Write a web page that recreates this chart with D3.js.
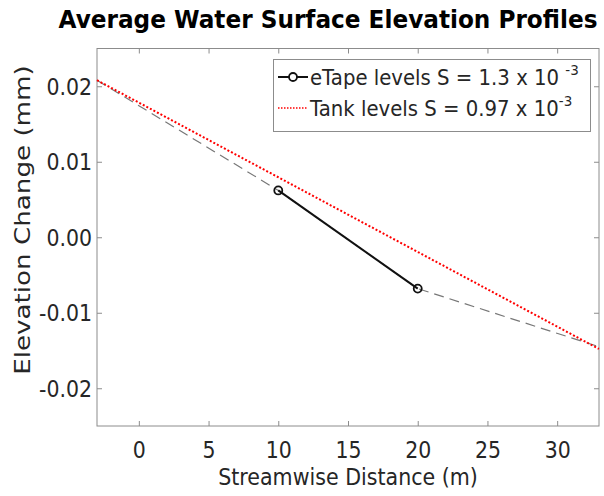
<!DOCTYPE html>
<html><head><meta charset="utf-8">
<script src="https://cdn.jsdelivr.net/npm/d3@7"></script>
<style>body{margin:0;background:#fff}svg{display:block}text{font-family:"DejaVu Sans",Verdana,sans-serif}</style>
</head><body>
<svg id="c" width="604" height="496"></svg>
<script>
const xTicks = [0, 5, 10, 15, 20, 25, 30];
const yTicks = [-0.02, -0.01, 0.00, 0.01, 0.02];
const xDomain = [-3, 33];
const yDomain = [-0.025, 0.025];
const etapeX = [10, 20];
const etapeY = [0.0062, -0.0068];
const trendX = [-3, 10, 20, 33];
const trendY = [0.0208, 0.0062, -0.0068, -0.0145];
const tankX = [-3, 33];
const tankY = [0.0208, -0.0148];
const legendLabels = ["eTape levels S = 1.3 x 10", "Tank levels S = 0.97 x 10"];
const legendSup = ["-3", "-3"];

const svg = d3.select("#c");
const L = 97, R = 599, T = 48.5, B = 426;
const x = d3.scaleLinear().domain(xDomain).range([L, R]);
const y = d3.scaleLinear().domain(yDomain).range([B, T]);
const axisCol = "#8c8c8c", txt = "#262626";
const VS = 1.1; // vertical stretch of the reference text

// axes
const gx = svg.append("g").attr("transform", `translate(0,${B})`)
  .call(d3.axisBottom(x).tickValues(xTicks).tickSizeInner(-5).tickSizeOuter(0).tickFormat(d3.format("d")));
const gxt = svg.append("g").attr("transform", `translate(0,${T})`)
  .call(d3.axisTop(x).tickValues(xTicks).tickSizeInner(-5).tickSizeOuter(0).tickFormat(""));
const gy = svg.append("g").attr("transform", `translate(${L},0)`)
  .call(d3.axisLeft(y).tickValues(yTicks).tickSizeInner(-5).tickSizeOuter(0).tickFormat(d3.format(".2f")));
const gyr = svg.append("g").attr("transform", `translate(${R},0)`)
  .call(d3.axisRight(y).tickValues(yTicks).tickSizeInner(-5).tickSizeOuter(0).tickFormat(""));
[gx, gxt, gy, gyr].forEach(g => {
  g.select(".domain").remove();
  g.selectAll(".tick line").attr("stroke", axisCol);
  g.selectAll(".tick text").attr("fill", txt).style("font-size", "20.5px").style("font-family", "DejaVu Sans");
});
gx.selectAll(".tick text").attr("y", 0).attr("dy", 0).attr("transform", `translate(0,32) scale(1,${VS})`);
gy.selectAll(".tick text").text(d => d3.format(".2f")(d).replace("\u2212", "-"))
  .attr("x", 0).attr("dy", 0).attr("transform", `translate(-5,8) scale(1,${VS})`);
svg.append("rect").attr("x", L).attr("y", T).attr("width", R - L).attr("height", B - T)
  .attr("fill", "none").attr("stroke", axisCol).attr("stroke-width", 1);

// lines
const line = d3.line().x(d => x(d[0])).y(d => y(d[1]));
svg.append("path").datum(trendX.map((v, i) => [v, trendY[i]])).attr("d", line)
  .attr("fill", "none").attr("stroke", "#777").attr("stroke-width", 1.2).attr("stroke-dasharray", "10,6");
svg.append("path").datum(tankX.map((v, i) => [v, tankY[i]])).attr("d", line)
  .attr("fill", "none").attr("stroke", "#ff0000").attr("stroke-width", 2).attr("stroke-dasharray", "2,2");
const ep = etapeX.map((v, i) => [v, etapeY[i]]);
svg.append("path").datum(ep).attr("d", line).attr("fill", "none").attr("stroke", "#111").attr("stroke-width", 2);
svg.selectAll(".mk").data(ep).join("circle").attr("cx", d => x(d[0])).attr("cy", d => y(d[1]))
  .attr("r", 4).attr("fill", "none").attr("stroke", "#111").attr("stroke-width", 1.8);

// legend
const lg = svg.append("g");
lg.append("rect").attr("x", 273.5).attr("y", 59.5).attr("width", 317).attr("height", 72)
  .attr("fill", "#fff").attr("stroke", axisCol);
const rowY = [77, 108];
lg.append("line").attr("x1", 278).attr("x2", 308).attr("y1", rowY[0]).attr("y2", rowY[0]).attr("stroke", "#111").attr("stroke-width", 2);
lg.append("circle").attr("cx", 293).attr("cy", rowY[0]).attr("r", 4).attr("fill", "#fff").attr("stroke", "#111").attr("stroke-width", 1.8);
lg.append("line").attr("x1", 278).attr("x2", 308).attr("y1", rowY[1]).attr("y2", rowY[1]).attr("stroke", "#ff0000").attr("stroke-width", 1.5).attr("stroke-dasharray", "1.5,1.5");
legendLabels.forEach((s, i) => {
  const t = lg.append("text").attr("transform", `translate(310,${rowY[i] + 8}) scale(1,${VS})`)
    .attr("fill", txt).style("font-size", "19.7px");
  t.append("tspan").text(s + (i === 0 ? " " : ""));
  t.append("tspan").attr("dy", -9).style("font-size", "13.5px").text(legendSup[i]);
});

// labels
svg.append("text").attr("transform", `translate(328,28) scale(1,${VS})`).attr("text-anchor", "middle")
  .style("font-size", "23.2px").style("font-weight", "bold").attr("fill", "#000")
  .text("Average Water Surface Elevation Profiles");
svg.append("text").attr("transform", `translate(${(L + R) / 2},485) scale(1,${VS})`).attr("text-anchor", "middle")
  .style("font-size", "20.6px").attr("fill", txt).text("Streamwise Distance (m)");
svg.append("text").attr("transform", `translate(30,220) rotate(-90) scale(1.27,1)`).attr("text-anchor", "middle")
  .style("font-size", "20.6px").attr("fill", txt).text("Elevation Change (mm)");
</script>
</body></html>
